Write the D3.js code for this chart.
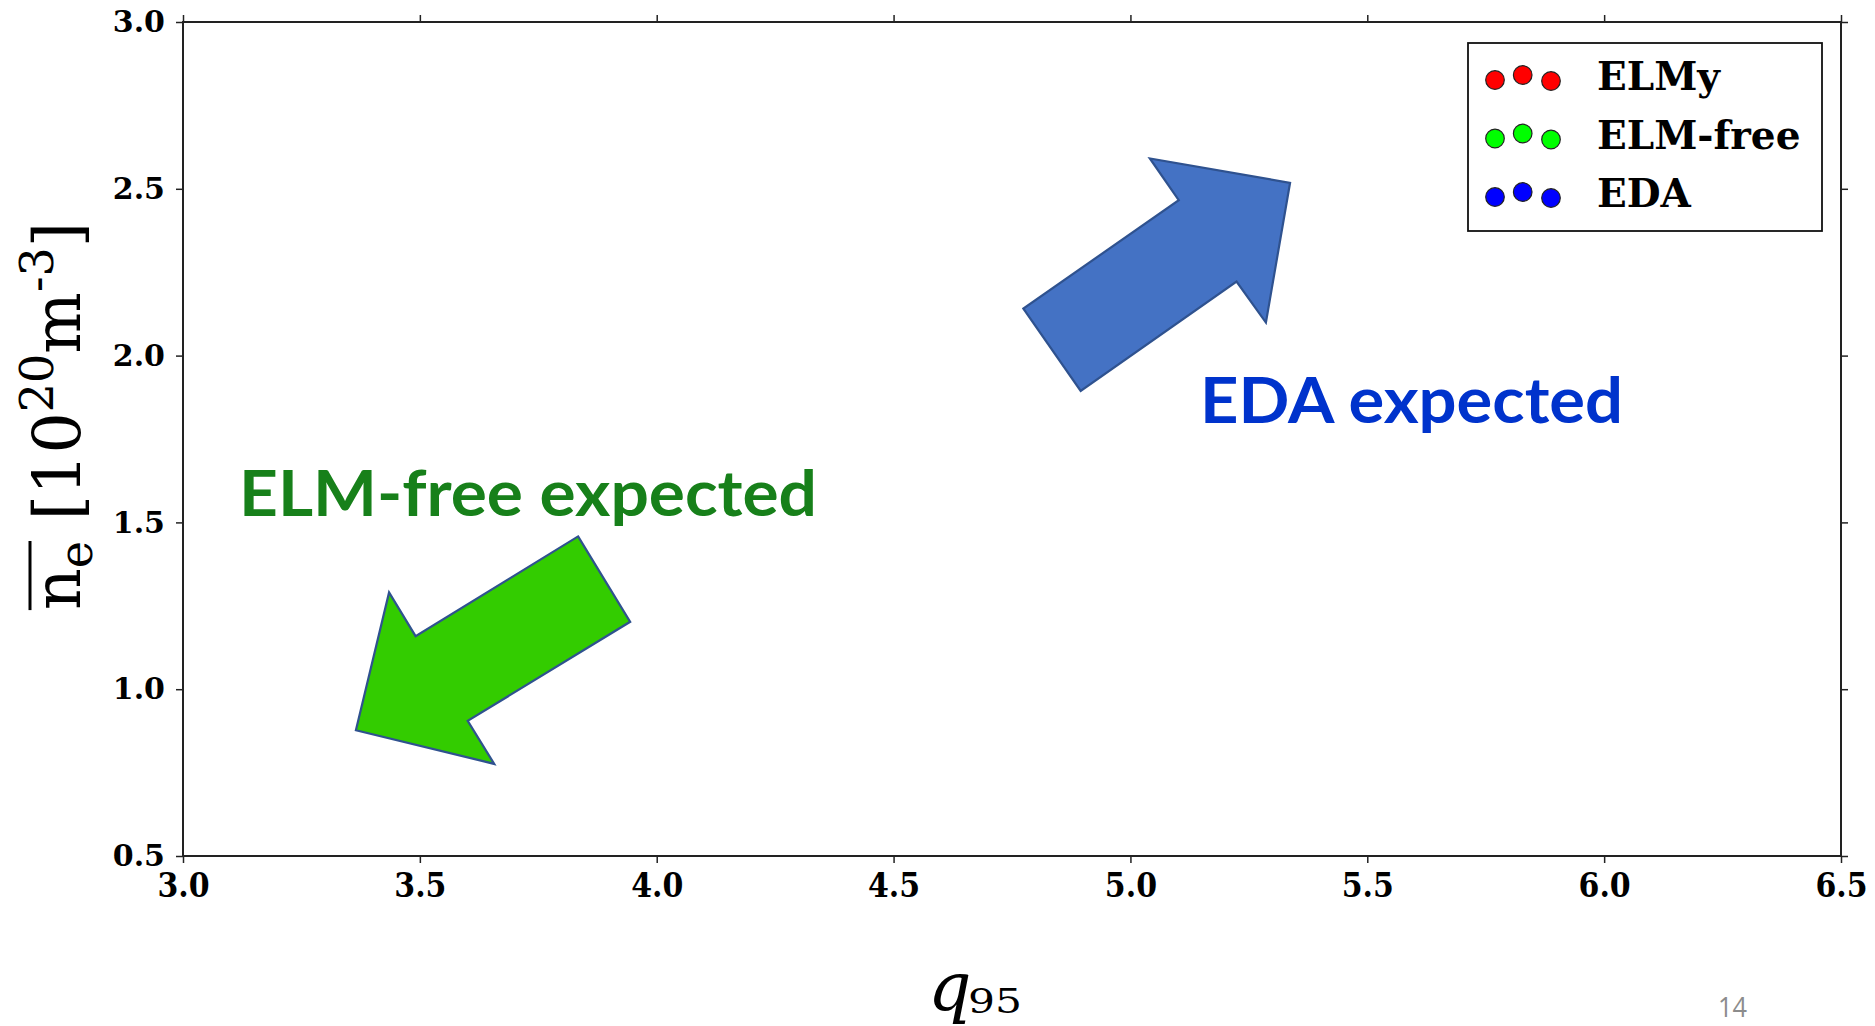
<!DOCTYPE html>
<html><head><meta charset="utf-8">
<script src="https://cdn.jsdelivr.net/npm/d3@7"></script>
<style>html,body{margin:0;padding:0;background:#fff;} svg{display:block;}</style>
</head><body><svg id="chart" width="1875" height="1026"></svg>
<script>
// ---- data ----
const xDomain = [3.0, 6.5];
const yDomain = [0.5, 3.0];
const xTicks = [3.0, 3.5, 4.0, 4.5, 5.0, 5.5, 6.0, 6.5];
const yTicks = [0.5, 1.0, 1.5, 2.0, 2.5, 3.0];
const legendLabels = ["ELMy", "ELM-free", "EDA"];
const legendColors = ["#ff0000", "#00ff00", "#0000ff"];
const elmyPoints = [];
const elmFreePoints = [];
const edaPoints = [];
// annotation arrows in data units (q95, ne)
const edaArrow = [[4.774,2.141],[4.895,1.894],[5.224,2.222],[5.286,2.099],[5.337,2.518],[5.041,2.591],[5.102,2.466]];
const elmFreeArrow = [[3.834,1.458],[3.944,1.202],[3.601,0.905],[3.657,0.776],[3.365,0.877],[3.435,1.290],[3.491,1.159]];
const annotations = ["ELM-free expected", "EDA expected"];

// ---- layout ----
const W = 1875, H = 1026;
const m = {left: 183, right: 1841, top: 22, bottom: 856};
const svg = d3.select("#chart");
svg.append("rect").attr("width", W).attr("height", H).attr("fill", "#fff");

const x = d3.scaleLinear().domain(xDomain).range([m.left, m.right]);
const y = d3.scaleLinear().domain(yDomain).range([m.bottom, m.top]);

const tickFont = "'DejaVu Serif', serif";
const axisColor = "#222";

function styleAxis(g) {
  g.select(".domain").remove();
  g.selectAll(".tick line").attr("stroke", axisColor).attr("stroke-width", 1.5);
}

// bottom
const gx = svg.append("g").attr("transform", `translate(0,${m.bottom})`)
  .call(d3.axisBottom(x).tickValues(xTicks).tickSize(7).tickFormat(d3.format(".1f")));
styleAxis(gx);
gx.selectAll(".tick text")
  .attr("font-family", tickFont).attr("font-weight", "bold").attr("font-size", 30)
  .attr("fill", "#000").attr("y", 41 / 1.14).attr("dy", 0)
  .attr("transform", "scale(1,1.14)");
// top
const gxt = svg.append("g").attr("transform", `translate(0,${m.top})`)
  .call(d3.axisTop(x).tickValues(xTicks).tickSize(7).tickFormat(""));
styleAxis(gxt);
// left
const gy = svg.append("g").attr("transform", `translate(${m.left},0)`)
  .call(d3.axisLeft(y).tickValues(yTicks).tickSize(7).tickPadding(11).tickFormat(d3.format(".1f")));
styleAxis(gy);
gy.selectAll(".tick text")
  .attr("font-family", tickFont).attr("font-weight", "bold").attr("font-size", 30).attr("fill", "#000");
// right
const gyr = svg.append("g").attr("transform", `translate(${m.right},0)`)
  .call(d3.axisRight(y).tickValues(yTicks).tickSize(7).tickFormat(""));
styleAxis(gyr);

// frame
svg.append("rect")
  .attr("x", x(xDomain[0])).attr("y", y(yDomain[1]))
  .attr("width", x(xDomain[1]) - x(xDomain[0]))
  .attr("height", y(yDomain[0]) - y(yDomain[1]))
  .attr("fill", "none").attr("stroke", axisColor).attr("stroke-width", 2);

// points (none shown in this frame)
const allPts = [
  {pts: elmyPoints, c: legendColors[0]},
  {pts: elmFreePoints, c: legendColors[1]},
  {pts: edaPoints, c: legendColors[2]}
];
allPts.forEach(s => {
  svg.append("g").selectAll("circle").data(s.pts).join("circle")
    .attr("cx", d => x(d[0])).attr("cy", d => y(d[1])).attr("r", 8)
    .attr("fill", s.c).attr("stroke", "#000");
});

// arrows
const line = d3.line().x(d => x(d[0])).y(d => y(d[1])).curve(d3.curveLinearClosed);
svg.append("path").attr("d", line(edaArrow))
  .attr("fill", "#4472c4").attr("stroke", "#2f528f").attr("stroke-width", 2.2).attr("stroke-linejoin", "miter");
svg.append("path").attr("d", line(elmFreeArrow))
  .attr("fill", "#33cc00").attr("stroke", "#2f528f").attr("stroke-width", 2.2).attr("stroke-linejoin", "miter");

// annotation texts
const annFont = "Lato, 'Open Sans', sans-serif";
svg.append("text").attr("x", 239).attr("y", 516)
  .attr("font-family", annFont).attr("font-weight", "bold").attr("font-size", 64)
  .attr("fill", "#17801a").attr("textLength", 578).attr("lengthAdjust", "spacingAndGlyphs")
  .text(annotations[0]);
svg.append("text").attr("x", 1200).attr("y", 423)
  .attr("font-family", annFont).attr("font-weight", "bold").attr("font-size", 64)
  .attr("fill", "#0033cc").attr("textLength", 423).attr("lengthAdjust", "spacingAndGlyphs")
  .text(annotations[1]);

// legend
const lg = svg.append("g");
lg.append("rect").attr("x", 1468).attr("y", 43).attr("width", 354).attr("height", 188)
  .attr("fill", "#fff").attr("stroke", "#111").attr("stroke-width", 1.8);
const dotDx = [1495, 1522.7, 1551];
const dotDy = [1, -4, 2];
legendLabels.forEach((lab, i) => {
  const cy = 79 + i * 58.5;
  dotDx.forEach((dx, j) => {
    lg.append("circle").attr("cx", dx).attr("cy", cy + dotDy[j]).attr("r", 9.3)
      .attr("fill", legendColors[i]).attr("stroke", "#222").attr("stroke-width", 1.2);
  });
  lg.append("text").attr("x", 1597).attr("y", cy + 11)
    .attr("font-family", tickFont).attr("font-weight", "bold").attr("font-size", 39)
    .attr("fill", "#000").text(lab);
});

// y label
const yl = svg.append("g").attr("transform", "translate(80,416) rotate(-90)");
const ylt = yl.append("text").attr("font-family", "'DejaVu Serif', serif").attr("font-size", 65)
  .attr("fill", "#000").attr("text-anchor", "middle");
ylt.append("tspan").text("n");
ylt.append("tspan").attr("font-size", 46).attr("dy", 12).text("e");
ylt.append("tspan").attr("dy", -12).text("\u00a0[10");
ylt.append("tspan").attr("font-size", 46).attr("dy", -27).text("20");
ylt.append("tspan").attr("dy", 27).text("m");
ylt.append("tspan").attr("font-size", 46).attr("dy", -27).text("-3");
ylt.append("tspan").attr("dy", 27).text("]");
{
  const n0 = ylt.node();
  const sx = n0.getStartPositionOfChar(0).x;
  const ex = n0.getEndPositionOfChar(1).x;
  yl.append("line").attr("x1", sx).attr("x2", ex).attr("y1", -50).attr("y2", -50)
    .attr("stroke", "#000").attr("stroke-width", 3);
}

// x label
svg.append("text").attr("x", 928).attr("y", 1010).attr("fill", "#000")
  .attr("font-family", "'DejaVu Serif', serif").attr("font-style", "italic")
  .attr("font-size", 68).text("q");
svg.append("text").attr("x", 968).attr("y", 1013).attr("fill", "#000")
  .attr("font-family", "'DejaVu Serif', serif").attr("font-size", 33)
  .attr("textLength", 54).attr("lengthAdjust", "spacingAndGlyphs").text("95");

// page number
svg.append("text").attr("x", 1718).attr("y", 1017)
  .attr("font-family", "'Open Sans', sans-serif").attr("font-size", 28).attr("fill", "#8c8c8c")
  .attr("textLength", 29).attr("lengthAdjust", "spacingAndGlyphs").text("14");
</script></body></html>
